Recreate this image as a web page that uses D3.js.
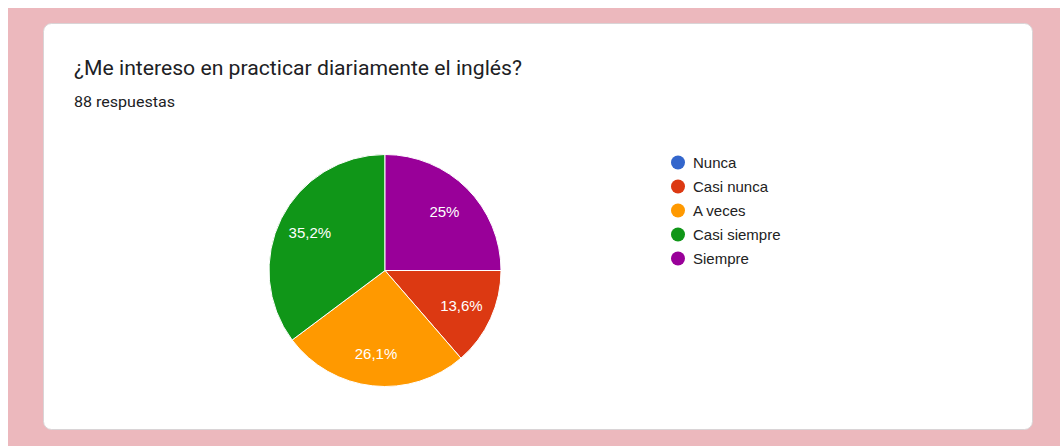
<!DOCTYPE html>
<html><head><meta charset="utf-8">
<script src="https://cdn.jsdelivr.net/npm/d3@7"></script>
<style>html,body{margin:0;padding:0;background:#fff;}svg{display:block;}</style>
</head><body>
<svg id="chart" width="1060" height="446"></svg>
<script>
const title = "¿Me intereso en practicar diariamente el inglés?";
const subtitle = "88 respuestas";
const categories = ["Nunca", "Casi nunca", "A veces", "Casi siempre", "Siempre"];
const counts = [0, 12, 23, 31, 22];
const percentLabels = ["0%", "13,6%", "26,1%", "35,2%", "25%"];
const colors = ["#3366cc", "#dc3912", "#ff9900", "#109618", "#990099"];

const svg = d3.select("#chart");
svg.append("rect").attr("x", 8).attr("y", 8).attr("width", 1052).attr("height", 438).attr("fill", "#ecb8bd");
svg.append("rect").attr("x", 43.5).attr("y", 23.5).attr("width", 989).attr("height", 406)
  .attr("rx", 8).attr("fill", "#fff").attr("stroke", "#d9d4d6").attr("stroke-width", 1);

svg.append("text").attr("x", 74).attr("y", 75).text(title)
  .attr("font-family", "Roboto").attr("font-size", 20).attr("fill", "#202124")
  .attr("textLength", 448).attr("lengthAdjust", "spacingAndGlyphs");
svg.append("text").attr("x", 74).attr("y", 107).text(subtitle)
  .attr("font-family", "Roboto").attr("font-size", 14).attr("fill", "#202124")
  .attr("textLength", 101).attr("lengthAdjust", "spacingAndGlyphs");

const cx = 385, cy = 270.5, r = 116;
const color = d3.scaleOrdinal().domain(categories).range(colors);
const pie = d3.pie().sort(null).value(d => d.v).startAngle(Math.PI / 2).endAngle(Math.PI / 2 + 2 * Math.PI);
const data = categories.map((c, i) => ({c, v: counts[i], label: percentLabels[i]}));
const arcs = pie(data);
const arc = d3.arc().innerRadius(0).outerRadius(r);
const labelArc = d3.arc().innerRadius(84).outerRadius(84);
const g = svg.append("g").attr("transform", `translate(${cx},${cy})`);
g.selectAll("path").data(arcs.filter(a => a.data.v > 0)).join("path")
  .attr("d", arc).attr("fill", d => color(d.data.c)).attr("stroke", "#fff").attr("stroke-width", 1);
g.selectAll("text").data(arcs.filter(a => a.data.v > 0)).join("text")
  .attr("transform", d => `translate(${labelArc.centroid(d)})`)
  .attr("text-anchor", "middle").attr("dy", "0.36em")
  .attr("font-family", "Arial, 'Liberation Sans'").attr("font-size", 15).attr("fill", "#fff")
  .text(d => d.data.label);

const legend = svg.append("g");
const ly = d3.scalePoint().domain(categories).range([162.5, 258.5]);
const items = legend.selectAll("g").data(categories).join("g")
  .attr("transform", d => `translate(678,${ly(d)})`);
items.append("circle").attr("r", 7).attr("fill", d => color(d));
items.append("text").attr("x", 15).attr("dy", "0.36em")
  .attr("font-family", "Arial, 'Liberation Sans'").attr("font-size", 15).attr("fill", "#222")
  .text(d => d);
</script>
</body></html>
